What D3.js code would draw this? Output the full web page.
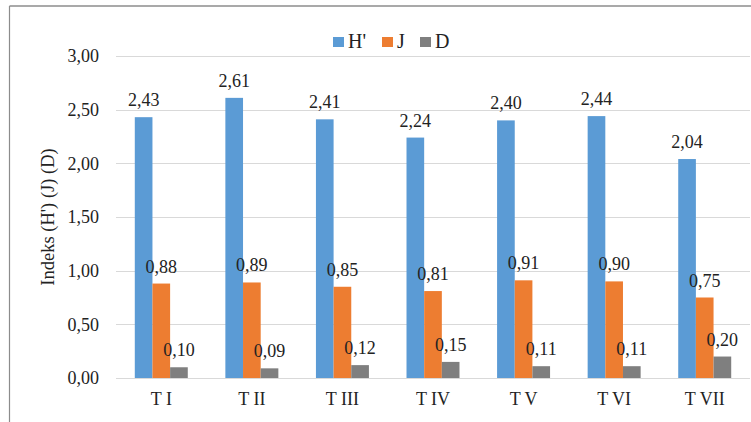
<!DOCTYPE html>
<html>
<head>
<meta charset="utf-8">
<script src="https://cdn.jsdelivr.net/npm/d3@7"></script>
<style>
  body { margin: 0; background: #fff; }
  svg text { font-family: "Liberation Serif", "Times New Roman", "DejaVu Serif", serif; fill: #222; }
</style>
</head>
<body>
<div id="chart"></div>
<script>
// data
var categories = ["T I", "T II", "T III", "T IV", "T V", "T VI", "T VII"];
var seriesNames = ["H'", "J", "D"];
var valuesH = [2.43, 2.61, 2.41, 2.24, 2.40, 2.44, 2.04];
var valuesJ = [0.88, 0.89, 0.85, 0.81, 0.91, 0.90, 0.75];
var valuesD = [0.10, 0.09, 0.12, 0.15, 0.11, 0.11, 0.20];
var yTicks = [0, 0.5, 1, 1.5, 2, 2.5, 3];
var colors = ["#5b9bd5", "#ed7d31", "#7f7f7f"];

var seriesValues = [valuesH, valuesJ, valuesD];

var width = 751, height = 422;
var margin = {top: 56, right: 1, bottom: 44, left: 116};
var serif = "'Liberation Serif', 'Times New Roman', 'DejaVu Serif', serif";

var svg = d3.select("#chart").append("svg")
    .attr("width", width)
    .attr("height", height);

// frame (only top and left edges show in the picture)
svg.append("line")
    .attr("x1", 9.5).attr("x2", width).attr("y1", 6).attr("y2", 6)
    .attr("stroke", "#8c8c8c").attr("stroke-width", 1.5);
svg.append("line")
    .attr("x1", 9.5).attr("x2", 9.5).attr("y1", 6).attr("y2", height)
    .attr("stroke", "#8c8c8c").attr("stroke-width", 1.2);

var x0 = d3.scaleBand()
    .domain(categories)
    .range([margin.left, width - margin.right])
    .paddingInner(0.415)
    .paddingOuter(0.2075);

var x1 = d3.scaleBand()
    .domain(seriesNames)
    .range([0, x0.bandwidth()]);

var y = d3.scaleLinear()
    .domain([0, 3])
    .range([height - margin.bottom, margin.top]);

var fmt = function(v) { return d3.format(".2f")(v).replace(".", ","); };

// gridlines
svg.append("g").selectAll("line")
    .data(yTicks)
    .join("line")
    .attr("x1", margin.left).attr("x2", width - margin.right)
    .attr("y1", function(d) { return Math.round(y(d)) + 0.5; })
    .attr("y2", function(d) { return Math.round(y(d)) + 0.5; })
    .attr("stroke", "#d9d9d9").attr("stroke-width", 1);

// y axis labels
var yAxis = d3.axisLeft(y).tickValues(yTicks).tickFormat(fmt).tickSize(0).tickPadding(17);
svg.append("g")
    .attr("transform", "translate(" + margin.left + ",0)")
    .call(yAxis)
    .call(function(g) { g.select(".domain").remove(); })
    .selectAll("text")
    .style("font-family", serif)
    .style("font-size", "18px")
    .attr("fill", "#222");

// x axis labels
var xAxis = d3.axisBottom(x0).tickSize(0).tickPadding(14);
svg.append("g")
    .attr("transform", "translate(0," + y(0) + ")")
    .call(xAxis)
    .call(function(g) { g.select(".domain").remove(); })
    .selectAll("text")
    .style("font-family", serif)
    .style("font-size", "18px")
    .attr("fill", "#222");

// bars + labels
var groups = svg.append("g").selectAll("g")
    .data(categories)
    .join("g")
    .attr("transform", function(d) { return "translate(" + x0(d) + ",0)"; });

var cells = groups.selectAll("g")
    .data(function(c, i) {
        return seriesNames.map(function(s, k) { return {s: s, k: k, v: seriesValues[k][i]}; });
    })
    .join("g");

cells.append("rect")
    .attr("x", function(d) { return x1(d.s); })
    .attr("width", x1.bandwidth())
    .attr("y", function(d) { return y(d.v); })
    .attr("height", function(d) { return y(0) - y(d.v); })
    .attr("fill", function(d) { return colors[d.k]; });

cells.append("text")
    .attr("x", function(d) { return x1(d.s) + x1.bandwidth() / 2; })
    .attr("y", function(d) { return y(d.v) - 11; })
    .attr("text-anchor", "middle")
    .style("font-size", "18px")
    .text(function(d) { return fmt(d.v); });

// y title
svg.append("text")
    .attr("transform", "translate(54," + (y(1.5)) + ") rotate(-90)")
    .attr("text-anchor", "middle")
    .style("font-size", "18.5px")
    .text("Indeks (H') (J) (D)");

// legend
var legendX = [333, 382, 420];
var legend = svg.append("g").selectAll("g")
    .data(seriesNames)
    .join("g")
    .attr("transform", function(d, i) { return "translate(" + legendX[i] + ",37)"; });
legend.append("rect")
    .attr("width", 11).attr("height", 10)
    .attr("fill", function(d, i) { return colors[i]; });
legend.append("text")
    .attr("x", 15).attr("y", 11)
    .style("font-size", "20px")
    .text(function(d) { return d; });
</script>
</body>
</html>
